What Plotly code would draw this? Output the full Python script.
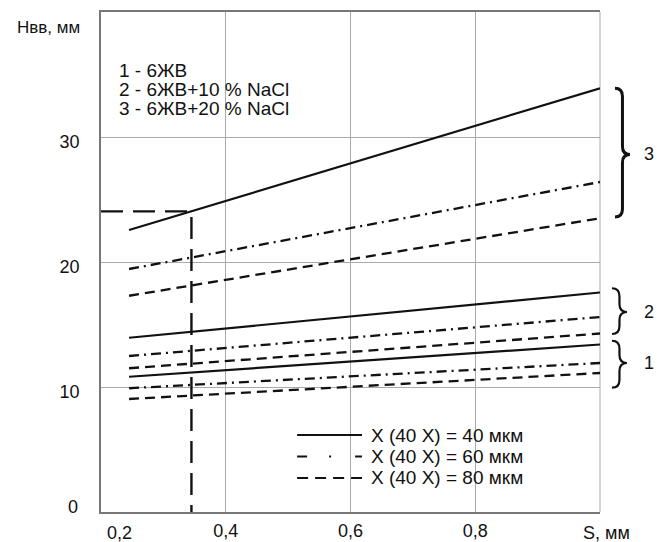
import plotly.graph_objects as go

# ---- data ----
s_points = [0.245, 1.0]          # S, mm (start / end of each straight line)
h_g3_40 = [22.56, 33.9]
h_g3_60 = [19.44, 26.4]
h_g3_80 = [17.3, 23.5]
h_g2_40 = [13.94, 17.56]
h_g2_60 = [12.48, 15.6]
h_g2_80 = [11.5, 14.28]
h_g1_40 = [10.82, 13.4]
h_g1_60 = [9.9, 11.92]
h_g1_80 = [9.04, 11.12]

s_marker = 0.345
h_marker = 24.05

x_tickvals = [0.4, 0.6, 0.8]
x_ticktext = ["0,4", "0,6", "0,8"]
y_tickvals = [10, 20, 30]
y_ticktext = ["10", "20", "30"]

group_labels = ["1 - 6ЖВ", "2 - 6ЖВ+10 % NaCl", "3 - 6ЖВ+20 % NaCl"]
legend_labels = ["X (40 X) = 40 мкм", "X (40 X) = 60 мкм", "X (40 X) = 80 мкм"]
# brace spans (top, bottom, middle) in H units, and labels
brace_spans = [(13.7, 9.95, 11.92), (17.9, 14.24, 16.0), (33.9, 23.6, 28.6)]
brace_labels = ["1", "2", "3"]

X_RANGE = [0.2, 1.0]
Y_RANGE = [0, 40]

FONT = "Liberation Sans, Arial, sans-serif"
DASH_6 = "10px,5px,2px,5px"
DASH_8 = "10px,6px"
styles = {"40": dict(dash="solid", width=2.2),
          "60": dict(dash=DASH_6, width=2.3),
          "80": dict(dash=DASH_8, width=2.3)}

fig = go.Figure()
series = [(h_g3_40, "40"), (h_g3_60, "60"), (h_g3_80, "80"),
          (h_g2_40, "40"), (h_g2_60, "60"), (h_g2_80, "80"),
          (h_g1_40, "40"), (h_g1_60, "60"), (h_g1_80, "80")]
for vals, key in series:
    fig.add_trace(go.Scatter(x=s_points, y=vals, mode="lines",
                             line=dict(color="#111", **styles[key]),
                             showlegend=False, hoverinfo="skip", cliponaxis=False))

# reading guide line
fig.add_trace(go.Scatter(x=[X_RANGE[0], s_marker, s_marker], y=[h_marker, h_marker, 0],
                         mode="lines", line=dict(color="#111", width=2.4, dash="22px,10px"),
                         showlegend=False, hoverinfo="skip"))

def px(v):
    return (v - Y_RANGE[0]) / (Y_RANGE[1] - Y_RANGE[0])

annotations = []
shapes = []

# braces
def brace(xl, xt, yt, yb, ym, r=0.016):
    xm = (xl + xt) / 2
    return (f"M {xl},{yt} Q {xm},{yt} {xm},{yt - r} L {xm},{ym + r} "
            f"Q {xm},{ym} {xt},{ym} Q {xm},{ym} {xm},{ym - r} "
            f"L {xm},{yb + r} Q {xm},{yb} {xl},{yb}")

for (top, bot, mid), lab in zip(brace_spans, brace_labels):
    big = (top - bot) > 5
    xl, xt = (1.030, 1.060) if big else (1.024, 1.054)
    shapes.append(dict(type="path", xref="paper", yref="paper",
                       path=brace(xl, xt, px(top), px(bot), px(mid)),
                       line=dict(color="#111", width=3 if big else 2.2)))
    annotations.append(dict(x=1.084, y=px(mid), xref="paper", yref="paper", text=lab,
                            showarrow=False, xanchor="left", yanchor="middle",
                            font=dict(size=18, color="#111", family=FONT)))

# group description text
for i, t in enumerate(group_labels):
    annotations.append(dict(x=0.032, y=0.884 - i * 0.039, xref="paper", yref="paper",
                            text=t, showarrow=False, xanchor="left", yanchor="middle",
                            font=dict(size=19, color="#111", family=FONT)))

# line-style legend
leg_y = [0.154, 0.111, 0.068]
leg_dash = ["solid", "10px,22px,2px,24px", "11px,7px"]
for y, t, d in zip(leg_y, legend_labels, leg_dash):
    shapes.append(dict(type="line", xref="paper", yref="paper", x0=0.393, x1=0.523, y0=y, y1=y,
                       line=dict(color="#111", width=2.2, dash=d)))
    annotations.append(dict(x=0.537, y=y, xref="paper", yref="paper", text=t,
                            showarrow=False, xanchor="left", yanchor="middle",
                            font=dict(size=19, color="#111", family=FONT)))

# axis titles / extra labels
annotations.append(dict(x=-0.038, y=0.97, xref="paper", yref="paper", text="Нвв, мм",
                        showarrow=False, xanchor="right", yanchor="middle",
                        font=dict(size=17, color="#111", family=FONT)))
annotations.append(dict(x=-0.042, y=0.01, xref="paper", yref="paper", text="0",
                        showarrow=False, xanchor="right", yanchor="middle",
                        font=dict(size=18, color="#111", family=FONT)))
annotations.append(dict(x=0.038, y=-0.042, xref="paper", yref="paper", text="0,2",
                        showarrow=False, xanchor="center", yanchor="middle",
                        font=dict(size=18, color="#111", family=FONT)))
annotations.append(dict(x=1.014, y=-0.042, xref="paper", yref="paper", text="S, мм",
                        showarrow=False, xanchor="center", yanchor="middle",
                        font=dict(size=18, color="#111", family=FONT)))

fig.update_layout(
    width=657, height=542,
    margin=dict(l=101, r=57, t=12, b=30),
    paper_bgcolor="white", plot_bgcolor="white",
    font=dict(family=FONT, size=18, color="#111"),
    showlegend=False,
    xaxis=dict(range=X_RANGE, tickvals=x_tickvals, ticktext=x_ticktext, ticks="",
               showgrid=True, gridcolor="#aaaaaa", gridwidth=1,
               showline=True, linecolor="#777", linewidth=1.5, mirror=True,
               zeroline=False, ticklabelstandoff=2, automargin=False),
    yaxis=dict(range=Y_RANGE, tickvals=y_tickvals, ticktext=y_ticktext, ticks="",
               showgrid=True, gridcolor="#aaaaaa", gridwidth=1,
               showline=True, linecolor="#777", linewidth=1.5,
               zeroline=False, ticklabelstandoff=16, ticklabelshift=5,
               automargin=False),
    shapes=shapes,
    annotations=annotations,
)
# right border as gridline at S = 1.0
fig.add_shape(type="line", xref="paper", yref="paper", x0=1, x1=1, y0=0, y1=1,
              line=dict(color="#aaaaaa", width=1), layer="below")

fig.write_html("out.html", config={"displayModeBar": False},
               post_script="document.body.style.margin='0';")
